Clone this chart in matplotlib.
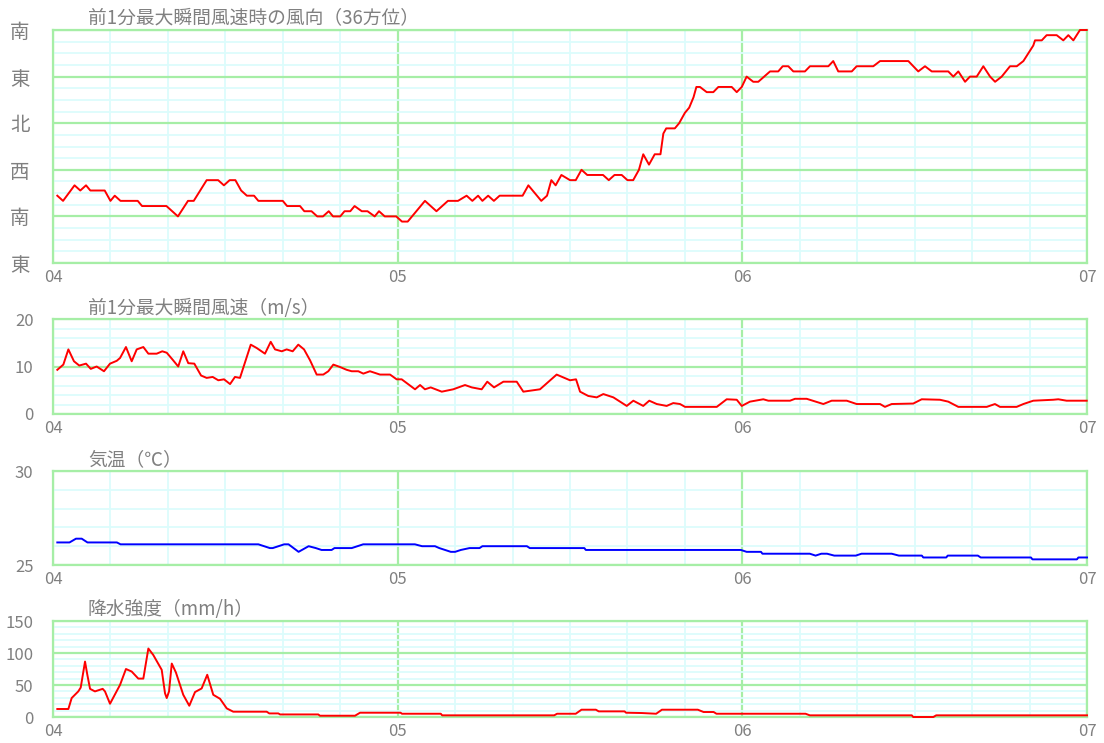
import matplotlib
matplotlib.use('Agg')
import matplotlib.pyplot as plt
from matplotlib.ticker import MultipleLocator, FixedLocator

plt.rcParams['font.family'] = ['Noto Sans CJK JP', 'DejaVu Sans']

# ---------------- data (hours from 04 00:00) ----------------
x_ticks = [0, 24, 48, 72]
x_labels = ['04', '05', '06', '07']

# wind direction in 36-point units (unwrapped; 9=E,18=S,27=W,36=N,45=E,54=S)
dir_h = [0.3, 0.7, 1.5, 1.9, 2.3, 2.6, 3.6, 4.0, 4.3, 4.7, 5.9, 6.2, 7.9, 8.7, 9.4, 9.8,
         10.7, 11.5, 11.9, 12.3, 12.7, 13.1, 13.5, 14.0, 14.3, 16.0, 16.3, 17.2, 17.5, 18.0,
         18.4, 18.8, 19.2, 19.5, 20.0, 20.3, 20.7, 21.0, 21.5, 21.9, 22.4, 22.7, 23.1, 23.9,
         24.3, 24.7, 25.9, 26.7, 27.5, 28.2, 28.8, 29.2, 29.6, 29.9, 30.3, 30.7, 31.1, 32.7,
         33.1, 34.0, 34.4, 34.7, 35.0, 35.4, 36.0, 36.4, 36.8, 37.2, 38.3, 38.7, 39.1, 39.6,
         40.0, 40.4, 40.8, 41.1, 41.5, 41.9, 42.3, 42.5, 42.7, 43.3, 43.6, 44.0, 44.3, 44.6,
         44.8, 45.05, 45.52, 45.98, 46.33, 47.26, 47.61, 47.96, 48.30, 48.76, 49.11, 49.93,
         50.50, 50.81, 51.20, 51.55, 52.36, 52.71, 53.99, 54.33, 54.68, 55.62, 55.96, 57.12,
         57.59, 59.56, 60.25, 60.72, 61.19, 62.34, 62.69, 63.04, 63.51, 63.85, 64.32, 64.78,
         65.25, 65.60, 66.06, 66.64, 67.11, 67.57, 68.26, 68.38, 68.85, 69.19, 69.89, 70.35,
         70.70, 71.05, 71.51, 71.98]
dir_v = [22, 21, 24, 23, 24, 23, 23, 21, 22, 21, 21, 20, 20, 18, 21, 21,
         25, 25, 24, 25, 25, 23, 22, 22, 21, 21, 20, 20, 19, 19,
         18, 18, 19, 18, 18, 19, 19, 20, 19, 19, 18, 19, 18, 18,
         17, 17, 21, 19, 21, 21, 22, 21, 22, 21, 22, 21, 22, 22,
         24, 21, 22, 25, 24, 26, 25, 25, 27, 26, 26, 25, 26, 26,
         25, 25, 27, 30, 28, 30, 30, 34, 35, 35, 36, 38, 39, 41,
         43, 43, 42, 42, 43, 43, 42, 43, 45, 44, 44, 46,
         46, 47, 47, 46, 46, 47, 47, 48, 46, 46, 47, 47,
         48, 48, 46, 47, 46, 46, 45, 46, 44, 45, 45, 47,
         45, 44, 45, 47, 47, 48, 51, 52, 52, 53, 53, 52,
         53, 52, 54, 54]

# max instantaneous wind speed (m/s)
spd_h = [0.30, 0.72, 1.07, 1.46, 1.83, 2.30, 2.63, 3.04, 3.55, 3.97, 4.44, 4.67, 5.08, 5.48,
         5.83, 6.29, 6.64, 7.22, 7.61, 7.92, 8.34, 8.72, 9.07, 9.42, 9.84, 10.31, 10.70, 11.12,
         11.51, 11.91, 12.33, 12.67, 13.02, 13.77, 14.18, 14.76, 15.16, 15.46, 15.93, 16.27,
         16.69, 17.08, 17.48, 17.90, 18.36, 18.82, 19.17, 19.52, 19.98, 20.45, 20.80, 21.26,
         21.61, 22.07, 22.77, 23.47, 23.93, 24.28, 25.21, 25.56, 25.90, 26.30, 27.07, 27.87,
         28.69, 29.16, 29.85, 30.24, 30.71, 31.36, 32.29, 32.75, 33.91, 35.07, 36.00, 36.42,
         36.70, 37.27, 37.86, 38.32, 39.02, 39.95, 40.41, 41.10, 41.52, 42.04, 42.73, 43.19,
         43.66, 44.01, 46.22, 46.91, 47.61, 47.96, 48.53, 49.46, 49.81, 51.32, 51.67, 52.48,
         53.64, 54.22, 55.27, 55.96, 57.59, 57.93, 58.40, 59.90, 60.49, 61.76, 62.34, 63.04,
         65.02, 65.59, 65.94, 67.10, 67.57, 68.26, 69.65, 70.00, 70.58, 71.98]
spd_v = [9.3, 10.4, 13.6, 11.1, 10.2, 10.6, 9.5, 10.0, 9.0, 10.6, 11.2, 11.8, 14.1, 11.1,
         13.6, 14.1, 12.7, 12.7, 13.2, 12.9, 11.4, 10.0, 13.2, 10.7, 10.6, 8.1, 7.6, 7.8,
         7.1, 7.3, 6.3, 7.8, 7.6, 14.6, 13.9, 12.7, 15.2, 13.6, 13.2, 13.6,
         13.2, 14.6, 13.6, 11.3, 8.3, 8.3, 9.0, 10.4, 9.9, 9.3, 9.0, 9.0,
         8.5, 9.0, 8.3, 8.3, 7.3, 7.3, 5.2, 6.1, 5.2, 5.6, 4.7, 5.2,
         6.1, 5.6, 5.2, 6.8, 5.6, 6.8, 6.8, 4.7, 5.2, 8.3, 7.1, 7.3,
         4.7, 3.8, 3.5, 4.2, 3.5, 1.7, 2.8, 1.7, 2.8, 2.1, 1.7, 2.3,
         2.1, 1.5, 1.5, 3.1, 3.0, 1.7, 2.6, 3.1, 2.8, 2.8, 3.2, 3.2,
         2.1, 2.8, 2.8, 2.1, 2.1, 1.5, 2.1, 2.2, 3.1, 3.0, 2.6, 1.5,
         1.5, 2.1, 1.5, 1.5, 2.1, 2.8, 3.0, 3.1, 2.8, 2.8]

# air temperature (deg C)
tmp_h = [0.3, 1.15, 1.6, 2.0, 2.4, 4.45, 4.7, 14.3, 15.1, 15.3, 16.1, 16.4, 17.1, 17.8, 18.3,
         18.7, 19.4, 19.6, 20.8, 21.6, 25.2, 25.7, 26.6, 26.9, 27.7, 28.0, 28.4, 29.0, 29.7,
         29.9, 33.0, 33.2, 37.0, 37.1, 47.9, 48.3, 49.3, 49.4, 52.7, 53.1, 53.5, 53.9, 54.4,
         55.9, 56.3, 58.4, 58.9, 60.5, 60.6, 62.2, 62.3, 64.4, 64.6, 68.1, 68.2, 71.3, 71.4, 72.0]
tmp_v = [26.2, 26.2, 26.4, 26.4, 26.2, 26.2, 26.1, 26.1, 25.9, 25.9, 26.1, 26.1, 25.7, 26.0, 25.9,
         25.8, 25.8, 25.9, 25.9, 26.1, 26.1, 26.0, 26.0, 25.9, 25.7, 25.7, 25.8, 25.9, 25.9,
         26.0, 26.0, 25.9, 25.9, 25.8, 25.8, 25.7, 25.7, 25.6, 25.6, 25.5, 25.6, 25.6, 25.5,
         25.5, 25.6, 25.6, 25.5, 25.5, 25.4, 25.4, 25.5, 25.5, 25.4, 25.4, 25.3, 25.3, 25.4, 25.4]

# precipitation intensity (mm/h)
pr_h = [0.30, 1.07, 1.30, 1.76, 1.93, 2.23, 2.39, 2.58, 2.92, 3.46, 3.62, 3.97, 4.67, 5.08,
        5.48, 5.94, 6.29, 6.64, 6.98, 7.57, 7.80, 7.92, 8.08, 8.27, 8.56, 9.07, 9.49, 9.89,
        10.35, 10.74, 11.16, 11.63, 12.10, 12.55, 14.88, 15.06, 15.69, 15.81, 18.47, 18.59,
        21.03, 21.38, 24.2, 24.3, 27.0, 27.1, 34.9, 35.1, 36.4, 36.8, 37.8, 38.0, 39.8, 39.9,
        41.0, 42.0, 42.4, 44.9, 45.3, 46.0, 46.2, 52.4, 52.7, 59.8, 59.9, 61.3, 61.5, 72.0]
pr_v = [12.5, 12.5, 29.6, 40, 46, 86.6, 66, 44, 40, 44, 40, 20.7, 50.3, 75,
        71, 60, 60, 107, 97, 73.7, 37, 29.6, 40, 83.5, 69.5, 34.7, 17.6, 39,
        44.6, 66, 34.7, 28.5, 13.4, 8.3, 8.3, 5.6, 5.6, 4, 4, 2,
        2, 6.7, 6.7, 5.1, 5.1, 2.6, 2.6, 5.1, 5.1, 11.4, 11.4, 8.8, 8.8, 6.7,
        6.2, 5.1, 11.4, 11.4, 7.8, 7.8, 5.1, 5.1, 2.6, 2.6, 0, 0, 2.6, 2.6]

dir_ticks = [9, 18, 27, 36, 45, 54]
dir_labels = ['東', '南', '西', '北', '東', '南']

# ---------------- styling ----------------
MAJ = '#a6eea6'
MIN = '#dcfcfc'
TXT = '#808080'
W, H = 1104, 743

fig = plt.figure(figsize=(W / 100, H / 100), dpi=100)


def make_ax(top_px, bot_px):
    left, right = 53, 1087
    ax = fig.add_axes([left / W, 1 - bot_px / H, (right - left) / W, (bot_px - top_px) / H])
    ax.set_xlim(0, 72)
    ax.xaxis.set_major_locator(FixedLocator(x_ticks))
    ax.set_xticklabels(x_labels)
    ax.xaxis.set_minor_locator(MultipleLocator(4))
    ax.grid(which='minor', color=MIN, lw=1.3)
    ax.grid(which='major', color=MAJ, lw=1.6)
    ax.set_axisbelow(True)
    for s in ax.spines.values():
        s.set_color(MAJ)
        s.set_linewidth(1.6)
    ax.tick_params(which='both', length=0, colors=TXT, labelsize=12)
    ax.tick_params(axis='x', pad=4)
    ax.tick_params(axis='y', pad=14)
    return ax


LW = 1.4

# panel 1: wind direction
ax1 = make_ax(30, 263)
ax1.set_ylim(9, 54)
ax1.set_yticks(dir_ticks)
ax1.set_yticklabels(dir_labels, fontsize=14)
ax1.yaxis.set_minor_locator(MultipleLocator(2.25))
ax1.tick_params(axis='y', pad=17)
ax1.plot(dir_h, dir_v, color='#ff0000', lw=LW, clip_on=False, zorder=3)

# panel 2: wind speed
ax2 = make_ax(319, 414)
ax2.set_ylim(0, 20)
ax2.set_yticks([0, 10, 20])
ax2.yaxis.set_minor_locator(MultipleLocator(2))
ax2.plot(spd_h, spd_v, color='#ff0000', lw=LW, clip_on=False, zorder=3)

# panel 3: temperature
ax3 = make_ax(471, 565)
ax3.set_ylim(25, 30)
ax3.set_yticks([25, 30])
ax3.yaxis.set_minor_locator(MultipleLocator(1))
ax3.plot(tmp_h, tmp_v, color='#0000ff', lw=LW, clip_on=False, zorder=3)

# panel 4: precipitation
ax4 = make_ax(621, 717)
ax4.set_ylim(0, 150)
ax4.set_yticks([0, 50, 100, 150])
ax4.yaxis.set_minor_locator(MultipleLocator(10))
ax4.plot(pr_h, pr_v, color='#ff0000', lw=LW, clip_on=False, zorder=3)

titles = [('前1分最大瞬間風速時の風向（36方位）', 18),
          ('前1分最大瞬間風速（m/s）', 308),
          ('気温（℃）', 460),
          ('降水強度（mm/h）', 609)]
for t, ypx in titles:
    fig.text(88 / W, 1 - ypx / H, t, color=TXT, fontsize=13.5, va='center', ha='left')

fig.savefig('out.png', dpi=100, facecolor='white')
